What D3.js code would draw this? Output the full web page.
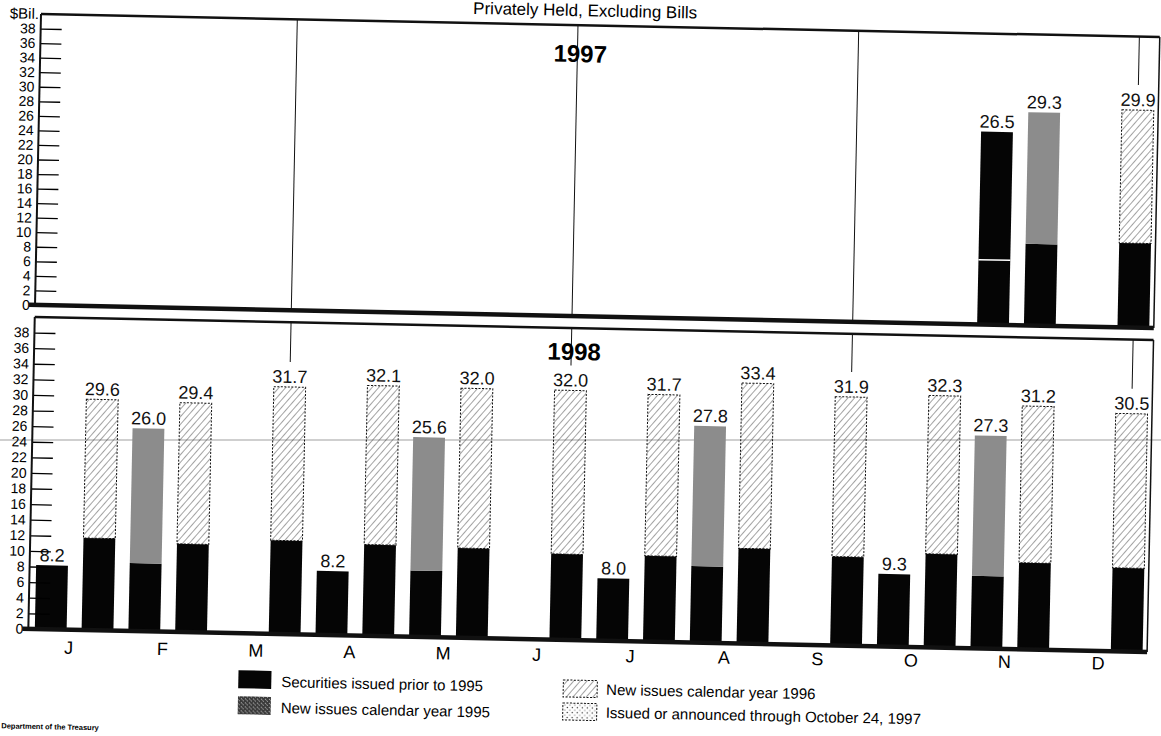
<!DOCTYPE html>
<html>
<head>
<meta charset="utf-8">
<script src="https://cdn.jsdelivr.net/npm/d3@7"></script>
<style>
  body { margin: 0; background: #fff; }
  svg { display: block; font-family: "Liberation Sans", Arial, Helvetica, sans-serif; }
</style>
</head>
<body>
<div id="chart"></div>
<script>
/*##############################
#   Data (in $ billions)       #
##############################*/

// months, each split in a mid-month and an end-of-month slot
const months = ["J", "F", "M", "A", "M", "J", "J", "A", "S", "O", "N", "D"];
const slots = [];
months.forEach(function(m, i) { slots.push(i + "-15"); slots.push(i + "-end"); });

const yTicks = [0, 2, 4, 6, 8, 10, 12, 14, 16, 18, 20, 22, 24, 26, 28, 30, 32, 34, 36, 38];
const quarterEnds = [2, 5, 8, 11];   // Mar, Jun, Sep, Dec

// 1997 panel (only Nov / Dec have maturities left)
const prior97 = [null, null, null, null, null, null, null, null, null, null, null, null,
                 null, null, null, null, null, null, null, null, 26.5, 11.2, null, 11.6];
const new95_97 = [null, null, null, null, null, null, null, null, null, null, null, null,
                  null, null, null, null, null, null, null, null, null, 18.1, null, null];
const new96_97 = [null, null, null, null, null, null, null, null, null, null, null, null,
                  null, null, null, null, null, null, null, null, null, null, null, 18.3];
const split97 = [null, null, null, null, null, null, null, null, null, null, null, null,
                 null, null, null, null, null, null, null, null, 8.9, null, null, null];

// 1998 panel
const prior98 = [8.2, 11.8, 8.7, 11.3, null, 12.0, 8.2, 11.7, 8.5, 11.5, null, 11.0,
                 8.0, 11.0, 9.8, 12.2, null, 11.4, 9.3, 12.0, 9.3, 11.1, null, 10.7];
const new95_98 = [null, null, 17.3, null, null, null, null, null, 17.1, null, null, null,
                  null, null, 18.0, null, null, null, null, null, 18.0, null, null, null];
const new96_98 = [null, 17.8, null, 18.1, null, 19.7, null, 20.4, null, 20.5, null, 21.0,
                  null, 20.7, null, 21.2, null, 20.5, null, 20.3, null, 20.1, null, 19.8];

const legendLeft = ["Securities issued prior to 1995", "New issues calendar year 1995"];
const legendRight = ["New issues calendar year 1996", "Issued or announced through October 24, 1997"];

/*##############################
#   Setup                      #
##############################*/
const W = 1161, H = 736;

const svg = d3.select("#chart").append("svg")
    .attr("width", W)
    .attr("height", H)
    .style("background", "#fff");

const defs = svg.append("defs");

// diagonal hatch for 1996 issues
const hatch = defs.append("pattern")
    .attr("id", "hatch")
    .attr("patternUnits", "userSpaceOnUse")
    .attr("width", 5).attr("height", 5)
    .attr("patternTransform", "rotate(40)");
hatch.append("line")
    .attr("x1", 0).attr("y1", 0).attr("x2", 0).attr("y2", 5)
    .attr("stroke", "#333").attr("stroke-width", 0.9);

// dots for the "announced" series
const dots = defs.append("pattern")
    .attr("id", "dots")
    .attr("patternUnits", "userSpaceOnUse")
    .attr("width", 5).attr("height", 5);
dots.append("circle").attr("cx", 1.5).attr("cy", 1.5).attr("r", 0.7).attr("fill", "#222");
dots.append("circle").attr("cx", 4).attr("cy", 4).attr("r", 0.6).attr("fill", "#444");

// noisy dark swatch used in the legend for 1995
const noise = defs.append("pattern")
    .attr("id", "noise")
    .attr("patternUnits", "userSpaceOnUse")
    .attr("width", 4).attr("height", 4);
noise.append("rect").attr("width", 4).attr("height", 4).attr("fill", "#3a3a3a");
noise.append("rect").attr("x", 1).attr("y", 0).attr("width", 1).attr("height", 1).attr("fill", "#aaa");
noise.append("rect").attr("x", 3).attr("y", 2).attr("width", 1).attr("height", 1).attr("fill", "#bbb");
noise.append("rect").attr("x", 0).attr("y", 3).attr("width", 1).attr("height", 1).attr("fill", "#888");

// faint scanner streak across the page
svg.append("line")
    .attr("x1", 0).attr("x2", W).attr("y1", 440).attr("y2", 440)
    .attr("stroke", "#cfcfcf").attr("stroke-width", 2);

// the scanned page sits slightly tilted
const g = svg.append("g").attr("transform", "rotate(1.18,40,14)");

g.append("text")
    .attr("x", 585).attr("y", 5)
    .attr("text-anchor", "middle")
    .attr("font-size", 17)
    .text("Privately Held, Excluding Bills");

g.append("text")
    .attr("x", 39).attr("y", 19)
    .attr("text-anchor", "end")
    .attr("font-size", 15)
    .text("$Bil.");

const x = d3.scaleBand()
    .domain(slots)
    .range([40, 1163])
    .paddingInner(0.32)
    .paddingOuter(0.16);

const xMonth = d3.scaleBand()
    .domain(d3.range(months.length))
    .range([40, 1163]);

const axisX = 41, rightX = 1160;

/*##############################
#   Panels                     #
##############################*/
function drawPanel(p) {
    const y = d3.scaleLinear().domain([0, 40]).range([p.base, p.top]);

    const table = slots.map(function(s, i) {
        return { slot: s, prior: p.prior[i] || 0, n95: p.n95[i] || 0, n96: p.n96[i] || 0, split: p.split ? p.split[i] : null };
    });
    const stacked = d3.stack().keys(["prior", "n95", "n96"])(table);
    const totals = table.map(function(d) { return d.prior + d.n95 + d.n96; });

    const pg = g.append("g");

    // quarter-end guide lines, stop above the bar label
    quarterEnds.forEach(function(m) {
        const i = 2 * m + 1;
        const cx = x(slots[i]) + x.bandwidth() / 2;
        pg.append("line")
            .attr("x1", cx).attr("x2", cx)
            .attr("y1", p.top)
            .attr("y2", totals[i] > 0 ? y(totals[i]) - 25 : p.base)
            .attr("stroke", "#111").attr("stroke-width", 1);
    });

    const fills = { prior: "#050505", n95: "#8c8c8c", n96: "url(#hatch)" };

    stacked.forEach(function(layer) {
        pg.append("g")
            .selectAll("rect")
            .data(layer.filter(function(d) { return d[1] > d[0]; }))
            .enter()
            .append("rect")
            .attr("x", function(d) { return x(d.data.slot); })
            .attr("width", x.bandwidth())
            .attr("y", function(d) { return y(d[1]); })
            .attr("height", function(d) { return y(d[0]) - y(d[1]); })
            .attr("fill", fills[layer.key])
            .attr("stroke", layer.key == "n96" ? "#111" : "none")
            .attr("stroke-width", 1)
            .attr("stroke-dasharray", layer.key == "n96" ? "2,1.5" : null);
    });

    // thin white divider inside a black bar
    pg.append("g")
        .selectAll("line")
        .data(table.filter(function(d) { return d.split; }))
        .enter()
        .append("line")
        .attr("x1", function(d) { return x(d.slot); })
        .attr("x2", function(d) { return x(d.slot) + x.bandwidth(); })
        .attr("y1", function(d) { return y(d.split); })
        .attr("y2", function(d) { return y(d.split); })
        .attr("stroke", "#fff").attr("stroke-width", 1.5);

    // value labels
    pg.append("g")
        .selectAll("text")
        .data(table.filter(function(d, i) { return totals[i] > 0; }))
        .enter()
        .append("text")
        .attr("x", function(d) { return x(d.slot) + x.bandwidth() / 2; })
        .attr("y", function(d) { return y(d.prior + d.n95 + d.n96) - 4; })
        .attr("text-anchor", "middle")
        .attr("font-size", 18)
        .attr("fill", "#111")
        .text(function(d) { return (d.prior + d.n95 + d.n96).toFixed(1); });

    // y axis with inward ticks
    const ax = pg.append("g")
        .attr("transform", "translate(" + axisX + ",0)")
        .call(d3.axisLeft(y).tickValues(yTicks).tickSize(-21).tickPadding(5));
    ax.select(".domain").remove();
    ax.selectAll(".tick line").attr("stroke", "#000").attr("stroke-width", 1.3);
    ax.selectAll(".tick text")
        .attr("font-size", 14)
        .attr("fill", "#000")
        .attr("font-family", "'Liberation Sans', Arial, sans-serif");

    // frame
    pg.append("line").attr("x1", axisX).attr("x2", rightX).attr("y1", p.top).attr("y2", p.top)
        .attr("stroke", "#111").attr("stroke-width", 2.5);
    pg.append("line").attr("x1", rightX).attr("x2", rightX).attr("y1", p.top).attr("y2", p.base)
        .attr("stroke", "#111").attr("stroke-width", 1.5);
    pg.append("line").attr("x1", axisX).attr("x2", axisX).attr("y1", p.top).attr("y2", p.base)
        .attr("stroke", "#111").attr("stroke-width", 2);
    pg.append("line").attr("x1", axisX - 6).attr("x2", rightX).attr("y1", p.base).attr("y2", p.base)
        .attr("stroke", "#111").attr("stroke-width", 4.5);

    pg.append("text")
        .attr("x", 581).attr("y", p.titleY)
        .attr("text-anchor", "middle")
        .attr("font-size", 24)
        .attr("font-weight", "bold")
        .text(p.name);
}

drawPanel({ name: "1997", top: 14, base: 305, titleY: 51, prior: prior97, n95: new95_97, n96: new96_97, split: split97 });
drawPanel({ name: "1998", top: 317, base: 629, titleY: 349, prior: prior98, n95: new95_98, n96: new96_98 });

// month letters
g.append("g")
    .selectAll("text")
    .data(months)
    .enter()
    .append("text")
    .attr("x", function(d, i) { return xMonth(i) + xMonth.bandwidth() / 2 - 5; })
    .attr("y", function(d, i) { return 653 - i * 0.5; })
    .attr("text-anchor", "middle")
    .attr("font-size", 18)
    .text(function(d) { return d; });

/*##############################
#   Legend                     #
##############################*/
const legFills = ["#050505", "url(#noise)", "url(#hatch)", "url(#dots)"];

legendLeft.forEach(function(t, i) {
    g.append("rect")
        .attr("x", 252).attr("y", 666 + i * 26)
        .attr("width", 33).attr("height", 18)
        .attr("fill", legFills[i]);
    g.append("text")
        .attr("x", 295).attr("y", 682 + i * 26)
        .attr("font-size", 15)
        .text(t);
});

legendRight.forEach(function(t, i) {
    g.append("rect")
        .attr("x", 577).attr("y", 669 + i * 23)
        .attr("width", 34).attr("height", 17)
        .attr("fill", legFills[i + 2])
        .attr("stroke", "#111").attr("stroke-width", 1)
        .attr("stroke-dasharray", "2,1.5");
    g.append("text")
        .attr("x", 620).attr("y", 683 + i * 23)
        .attr("font-size", 15)
        .text(t);
});

g.append("text")
    .attr("x", 16).attr("y", 729)
    .attr("font-size", 7.5)
    .attr("font-weight", "bold")
    .text("Department of the Treasury");
</script>
</body>
</html>
